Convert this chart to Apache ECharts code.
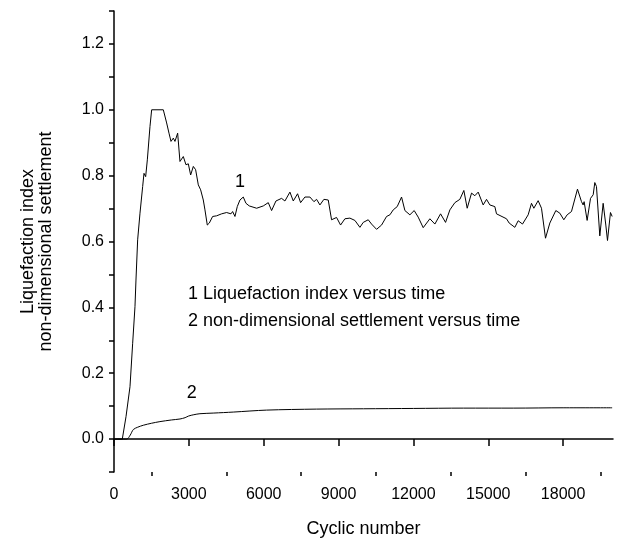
<!DOCTYPE html>
<html>
<head>
<meta charset="utf-8">
<script src="https://cdn.jsdelivr.net/npm/echarts@6/dist/echarts.min.js"></script>
<style>
  html, body { margin: 0; padding: 0; background: #fff; }
  #chart-container { width: 624px; height: 543px; }
</style>
</head>
<body>
<div id="chart-container"></div>
<script>
var dom = document.getElementById('chart-container');
var myChart = echarts.init(dom, null, { renderer: 'canvas' });

var FONT = "'Liberation Sans', Arial, sans-serif";

// curve 1: liquefaction index
var cycles1 = [0, 333, 481, 641, 748, 841, 881, 948, 1042, 1149, 1202, 1269, 1336, 1442, 1509, 1976,
  2017, 2110, 2204, 2284, 2377, 2444, 2551, 2644, 2778, 2885, 2978, 3072, 3179, 3272, 3379, 3472,
  3579, 3646, 3739, 3820, 3953, 4113, 4313, 4514, 4688, 4754, 4848, 4941, 5048, 5181, 5289, 5421,
  5717, 5983, 6183, 6317, 6490, 6717, 6850, 7051, 7185, 7358, 7479, 7652, 7853, 8013, 8120, 8253,
  8413, 8587, 8720, 8920, 9081, 9255, 9455, 9655, 9856, 9989, 10190, 10323, 10523, 10724, 10924,
  11058, 11191, 11351, 11525, 11659, 11859, 12032, 12193, 12393, 12660, 12861, 13089, 13289, 13462,
  13662, 13862, 14022, 14156, 14223, 14330, 14463, 14597, 14797, 14931, 15064, 15264, 15331, 15732,
  15839, 16066, 16199, 16373, 16600, 16734, 16827, 17000, 17134, 17295, 17468, 17708, 17869, 18029,
  18162, 18336, 18576, 18737, 18803, 18843, 18963, 19099, 19206, 19271, 19338, 19471, 19605, 19712,
  19779, 19899, 19966];
var index1 = [0, 0, 0.068, 0.159, 0.291, 0.402, 0.483, 0.605, 0.686, 0.767, 0.807, 0.797, 0.848, 0.949, 1.0, 1.0,
  0.998, 0.96, 0.929, 0.904, 0.914, 0.904, 0.929, 0.843, 0.858, 0.833, 0.836, 0.802, 0.828, 0.818, 0.772, 0.757,
  0.726, 0.696, 0.65, 0.656, 0.676, 0.678, 0.684, 0.688, 0.684, 0.691, 0.676, 0.706, 0.726, 0.735, 0.716, 0.708,
  0.701, 0.708, 0.718, 0.694, 0.723, 0.731, 0.723, 0.75, 0.723, 0.745, 0.718, 0.735, 0.735, 0.721, 0.728, 0.711,
  0.728, 0.726, 0.666, 0.673, 0.65, 0.669, 0.671, 0.664, 0.643, 0.658, 0.666, 0.653, 0.637, 0.65, 0.676,
  0.681, 0.696, 0.706, 0.735, 0.694, 0.681, 0.694, 0.674, 0.642, 0.669, 0.653, 0.684, 0.658, 0.696,
  0.718, 0.728, 0.755, 0.701, 0.696, 0.747, 0.739, 0.75, 0.711, 0.728, 0.711, 0.706, 0.684, 0.669,
  0.656, 0.643, 0.663, 0.653, 0.681, 0.716, 0.701, 0.724, 0.701, 0.61, 0.656, 0.694, 0.686, 0.666,
  0.681, 0.691, 0.759, 0.721, 0.711, 0.721, 0.664, 0.731, 0.742, 0.779, 0.767, 0.617, 0.716, 0.65,
  0.603, 0.688, 0.676];

// curve 2: non-dimensional settlement
var cycles2 = [0, 510, 650, 775, 950, 1175, 1500, 1840, 2300, 2645, 2850, 2990, 3200, 3445, 4000, 4780,
  6115, 8120, 10000, 12000, 14000, 16000, 18000, 19966];
var settle2 = [0, 0, 0.012, 0.029, 0.036, 0.042, 0.048, 0.053, 0.058, 0.061, 0.065, 0.07, 0.074, 0.077, 0.079, 0.082,
  0.088, 0.091, 0.092, 0.093, 0.094, 0.094, 0.095, 0.095];

var xMajor = [0, 3000, 6000, 9000, 12000, 15000, 18000];
var xMinor = [1500, 4500, 7500, 10500, 13500, 16500, 19500];
var yLabels = [0, 0.2, 0.4, 0.6, 0.8, 1.0, 1.2];

var noteLines = ['1 Liquefaction index versus time', '2 non-dimensional settlement versus time'];

function pairs(xs, ys) {
  return xs.map(function (x, i) { return [x, ys[i]]; });
}

var axisLine = { lineStyle: { color: '#000', width: 1.5 } };

var option = {
  animation: false,
  backgroundColor: '#fff',
  grid: { left: 114, right: 11, top: 11, bottom: 71 },
  xAxis: [
    {
      type: 'value',
      min: 0,
      max: 20000,
      interval: 1500,
      name: 'Cyclic number',
      nameLocation: 'middle',
      nameGap: 48,
      nameTextStyle: { fontFamily: FONT, fontSize: 18, color: '#000' },
      axisLine: axisLine,
      axisTick: { show: true, length: 7, customValues: xMajor, lineStyle: { color: '#000', width: 1.5 } },
      axisLabel: {
        customValues: xMajor,
        margin: 15,
        fontFamily: FONT,
        fontSize: 16,
        color: '#000',
        formatter: function (v) { return String(v); }
      },
      splitLine: { show: false }
    },
    {
      type: 'value',
      min: 0,
      max: 20000,
      interval: 1500,
      position: 'bottom',
      axisLine: { show: false },
      axisTick: { show: true, length: 4, customValues: xMinor, lineStyle: { color: '#000', width: 1.5 } },
      axisLabel: { show: false },
      splitLine: { show: false }
    }
  ],
  yAxis: {
    type: 'value',
    min: -0.1,
    max: 1.3,
    interval: 0.1,
    name: 'Liquefaction index\nnon-dimensional settlement',
    nameLocation: 'middle',
    nameGap: 59,
    nameRotate: 90,
    nameTextStyle: { fontFamily: FONT, fontSize: 18, color: '#000', lineHeight: 18 },
    axisLine: axisLine,
    axisTick: { show: true, length: 5, lineStyle: { color: '#000', width: 1.5 } },
    axisLabel: {
      customValues: yLabels,
      margin: 10,
      fontFamily: FONT,
      fontSize: 16,
      color: '#000',
      formatter: function (v) { return v.toFixed(1); }
    },
    splitLine: { show: false }
  },
  graphic: [
    {
      type: 'text',
      left: 188,
      top: 281,
      style: {
        text: noteLines.join('\n'),
        font: '18px ' + FONT,
        lineHeight: 27,
        fill: '#000'
      }
    }
  ],
  series: [
    {
      type: 'line',
      name: 'Liquefaction index',
      data: pairs(cycles1, index1),
      showSymbol: false,
      lineStyle: { color: '#000', width: 1 },
      markPoint: {
        symbol: 'circle',
        symbolSize: 0,
        label: { show: true, formatter: '1', fontFamily: FONT, fontSize: 18, color: '#000' },
        data: [{ coord: [5050, 0.78] }]
      }
    },
    {
      type: 'line',
      name: 'Settlement',
      data: pairs(cycles2, settle2),
      showSymbol: false,
      smooth: 0.3,
      lineStyle: { color: '#000', width: 1 },
      markPoint: {
        symbol: 'circle',
        symbolSize: 0,
        label: { show: true, formatter: '2', fontFamily: FONT, fontSize: 18, color: '#000' },
        data: [{ coord: [3120, 0.14] }]
      }
    }
  ]
};

myChart.setOption(option);
window.addEventListener('resize', myChart.resize);
</script>
</body>
</html>
